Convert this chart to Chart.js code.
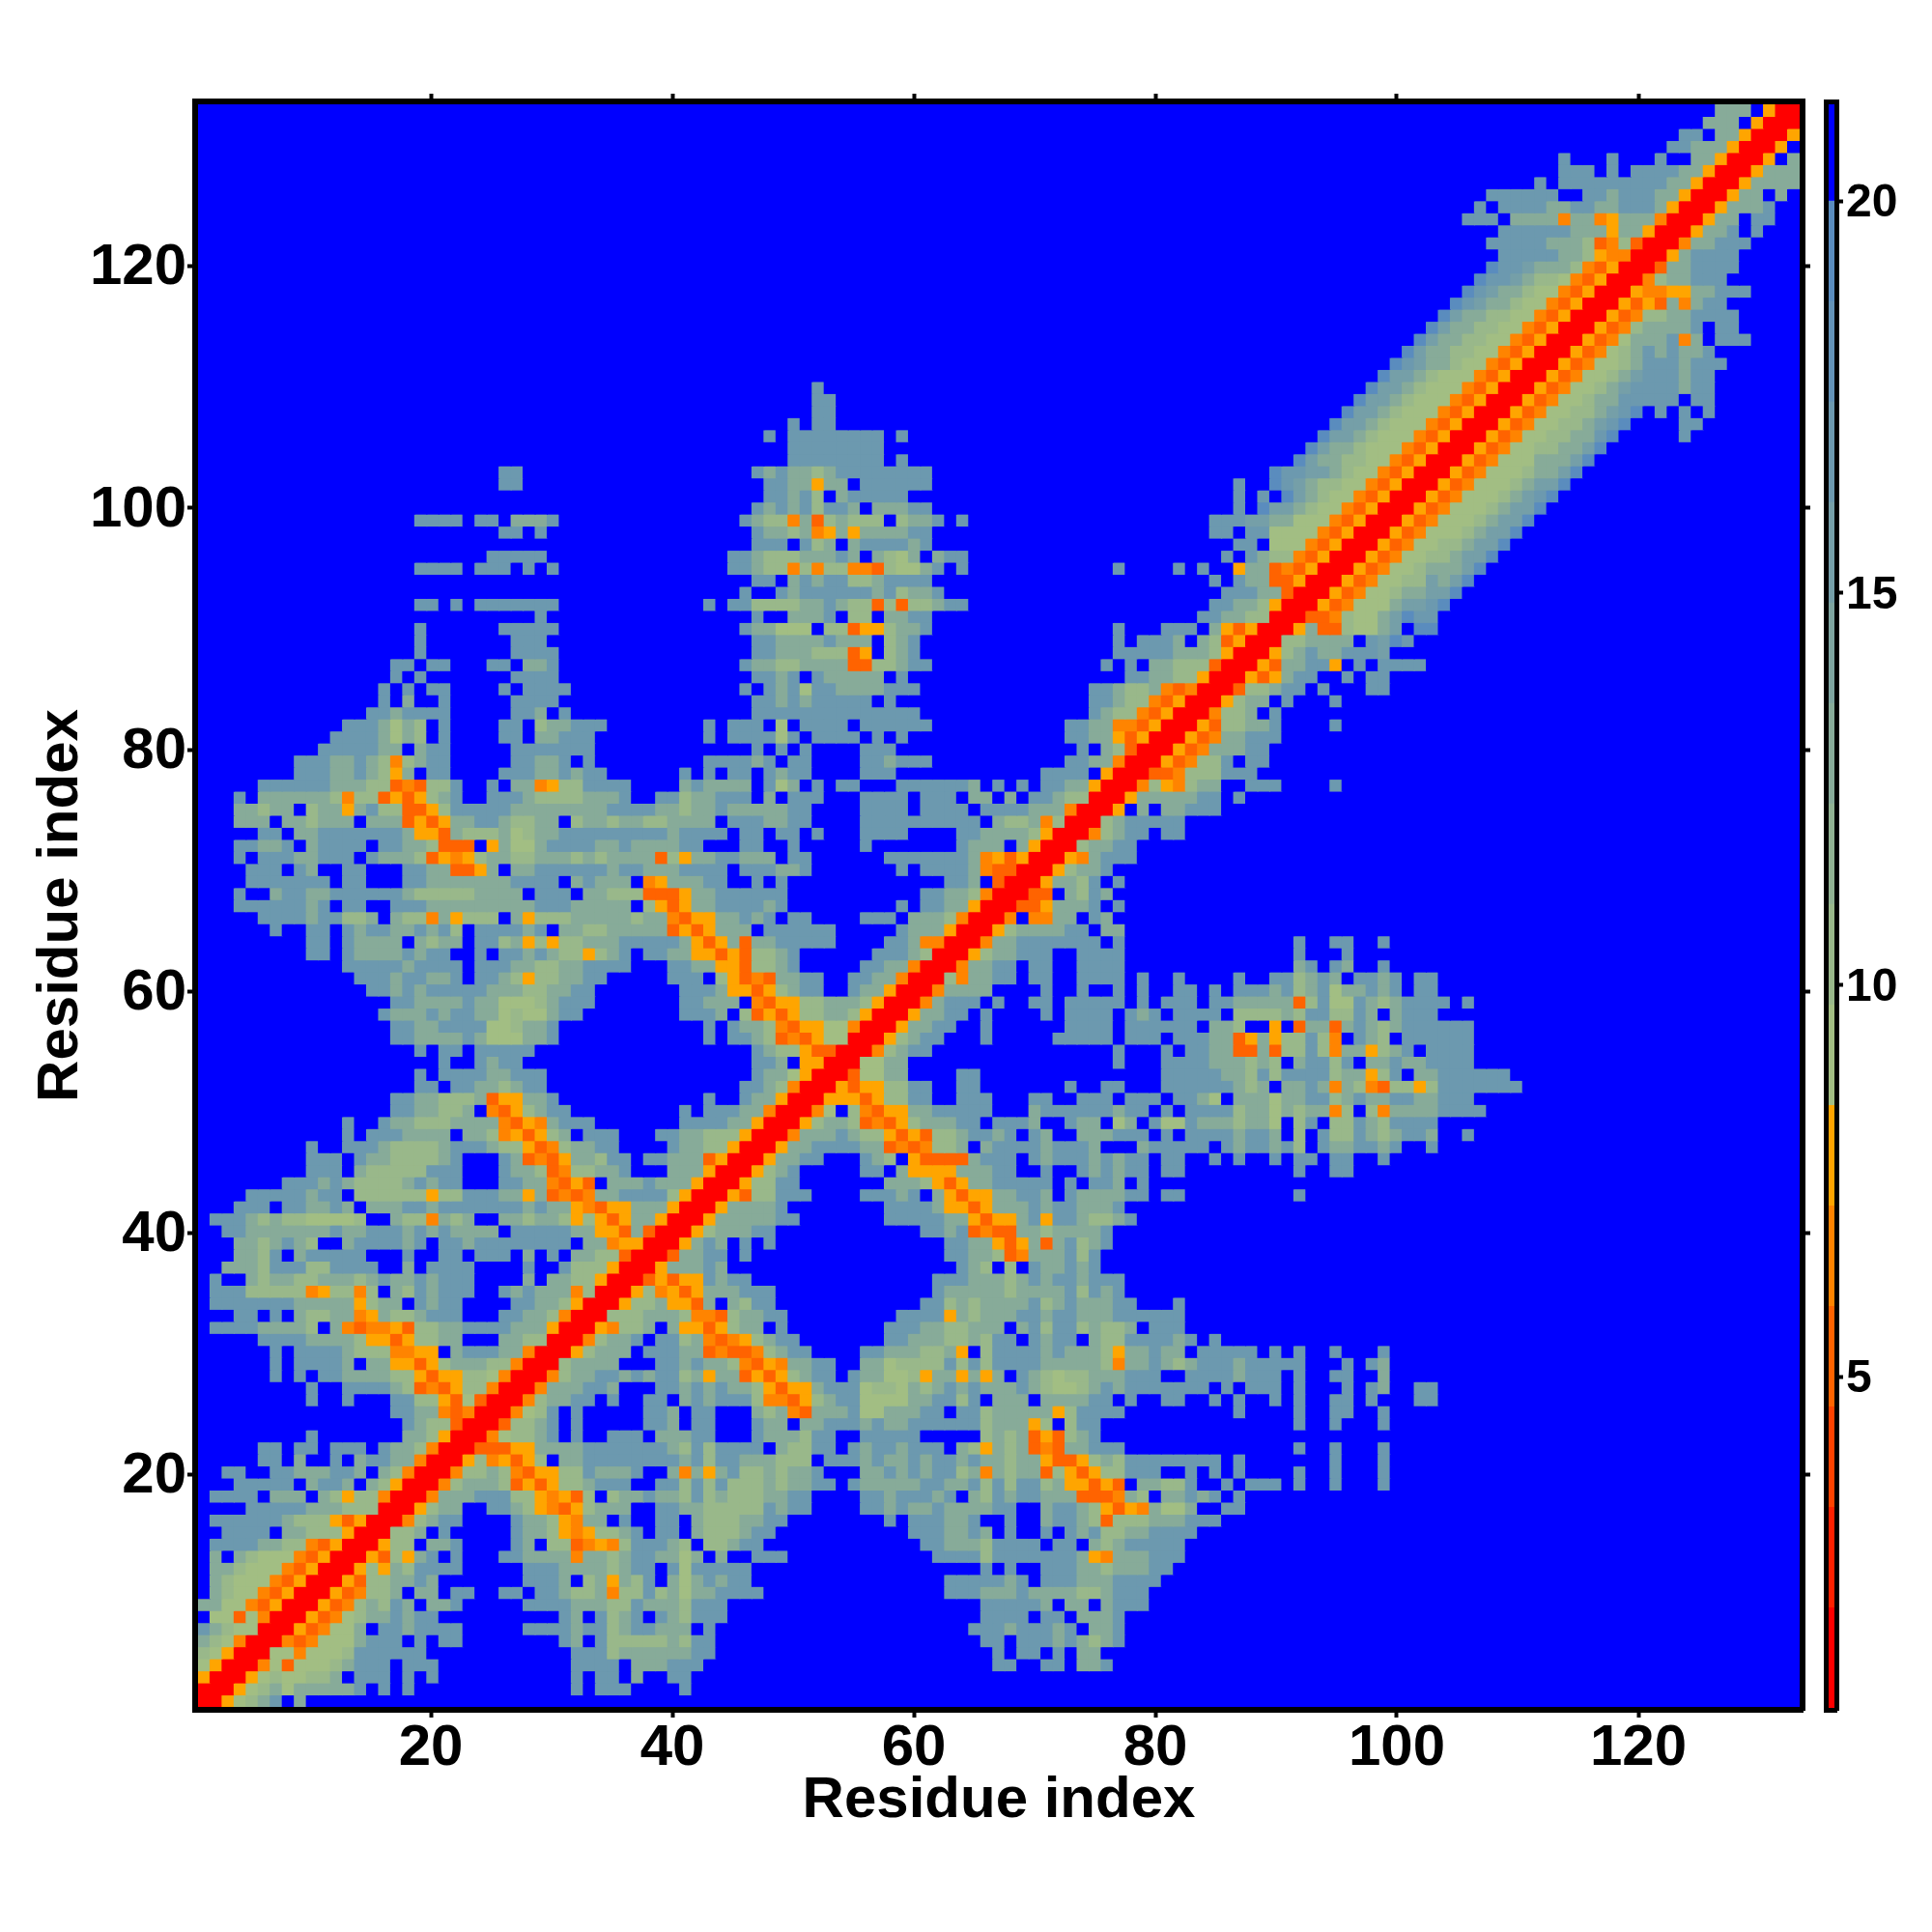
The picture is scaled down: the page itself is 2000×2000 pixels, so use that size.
<!DOCTYPE html>
<html>
<head>
<meta charset="utf-8">
<title>Residue distance map</title>
<script src="https://cdn.jsdelivr.net/npm/chart.js@4"></script>
<style>
    body { margin: 0; background: #fff; }
    #wrap { position: relative; width: 2000px; height: 2000px; }
    canvas { position: absolute; top: 0; }
    #map { left: 0; }
    #bar { left: 1860px; }
</style>
</head>
<body>
<div id="wrap">
    <canvas id="map" width="2000" height="2000"></canvas>
    <canvas id="bar" width="140" height="2000"></canvas>
</div>
<script>
const residueCount = 133;
const axisTicks = [20, 40, 60, 80, 100, 120];
const barTicks = [5, 10, 15, 20];

// colour bar steps
const levelStart = 0.77;
const levelStep = 1.282;
const levelColors = ['#ff0000', '#ff2100', '#ff4200', '#ff6300', '#ff8400', '#ffa500',
    '#a2be83', '#99b88a', '#90b292', '#87ab99', '#7ea5a0', '#759fa8', '#6c99af', '#6392b7', '#5a8cbe',
    '#0000ff'];

// distance read for each code used in upperRows, anything not listed is the far value
const codeValues = { '0': 1.4, '3': 5.26, '4': 6.54, '5': 7.82, '7': 9.1, '8': 10.4, 'a': 12.95, 'b': 15.5, 'c': 16.8, 'd': 19.4 };
const farValue = 20.6;

// one entry per residue y (1..133), "x:codes" runs for x < y, map is symmetric
const upperRows = [
    "",
    "1:0",
    "1:50",
    "1:750",
    "1:8750",
    "1:a8740",
    "1:ca8770",
    "2:773740",
    "1:aa774350",
    "2:a8774350",
    "2:a87774350",
    "2:aa87774350",
    "2:a 4:a87774350",
    "2:ccccaa884350",
    "3:cccc 8:aa88850",
    "2:cccccca8885350",
    "5:cccccaaa8880",
    "2:cccc 7:aaa 11:a858840",
    "4:ccccc 10:acca 15:a850",
    "3:cc 7:ccaaacca 16:a840",
    "6:cc 9:a 12:c 14:accaa40",
    "6:cc 9:cc 12:ccc 16:caa840",
    "10:c 18:aa850",
    "18:ca8830",
    "17:ccaa4340",
    "10:c 13:c 17:cc8853730",
    "10:c 13:cccca834358840",
    "7:c 9:c 11:ccaaaa88535588740",
    "7:c 9:cccca 15:aa55358aaa8840",
    "7:c 9:cccca8884455 22:acccaa40",
    "6:ccccaaaa8553588aa 26:aa880",
    "2:ccccaaaa8 12:a43445388aaccccaaa50",
    "4:cc 7:c 9:a88aa45a88accc 26:ccaa840",
    "2:cccccccaaaaa58aa 19:cacc 27:ccaa850",
    "2:ccc88888458848 17:a8caccc 26:cacaaa480",
    "2:c 5:a8aa88aaa8acaacaccc 28:a 30:aa8850",
    "3:aaa8ccc88cccc 18:a 20:cccc 28:c 31:c88850",
    "4:aa8c 9:accccc 18:c 21:cc 24:ccc 28:a 30:c 32:aa8830",
    "4:aa8aca8 13:accccac 21:ccacccccccc 33:aa4550",
    "3:ccaaaaaaacaacccacacaaaa 27:cccccaa553a30",
    "2:ccca8a8877778 17:a884a8a 26:aa8aa858535aa50",
    "4:ccc 8:ccaaca 15:aaaccacccccccacaa54355aaa50",
    "5:cccccacc 14:888888588cccaa5a3434aacccc850",
    "8:cccaca8888acacc 26:ccaa4353 35:aaacaaa50",
    "10:ccc 14:a88888ccc 26:caa83488aac 40:aaa50",
    "10:ccc 14:caa8888ac 26:ca3435aa8cc 38:ccaaa350",
    "10:c 13:ccca8888accca885348aacc 40:caa8850",
    "13:c 15:cccaaaa 23:aa845358a 33:ccc 39:ccaa88850",
    "13:c 16:caa888aaaa4354accc 41:ccccaa50",
    "17:ccaa88a 25:4358acc 41:c 43:cccaa40",
    "17:ccaa888a355aac 43:c 46:caa50",
    "19:cc 22:ccaa8acc 46:cca840",
    "19:c 21:ccccaaccc 47:caa750",
    "21:c 24:cacc 47:cca 51:550",
    "19:c 21:cc 24:ccccc 47:ca885330",
    "17:ccaaaaca777aac 43:c 45:cca83435770",
    "17:ccaacccc778aac 43:c 45:caa843557740",
    "16:caaacaccaa7877acc 41:ccca 46:8353588aa850",
    "17:ccaaaacaa7778accc 41:ccaaa 47:435588aaa850",
    "15:ccacacccccaaa88aacc 41:ccca55358acc 55:caa50",
    "14:cccaccaac 24:cca8588aacc 40:ccc 44:85343aacc 55:ccaa40",
    "13:cccccacccc 24:cccaa88aacccc 40:ccaa55388ac 56:ccaa40",
    "10:cc 13:caaaacacc 24:c 26:ccaca8858ac 38:ccaa5535388ac 57:ccca80",
    "10:cc 13:caaaa 19:a8aa 24:cc8a58588aaaccccca535a3aaccccc 58:cca440",
    "7:c 10:cc 13:caccaacac8 24:ccccac 31:aa88aaaaa3535aaa 48:cccccc 59:caaa50",
    "6:ccccacc88a 17:a884a5888 27:a5888aaaaa8aa4355aacac 50:cc 56:ccc 60:aaa840",
    "4:ccccccac 13:cc 17:cccaaaaaaaaacccaaaaa 38:8535aaccccac 59:c 61:ccaa50",
    "4:c 7:accaacccccca88888aaaa 29:ccc 33:aa8883335aacccccc 61:ccaa840",
    "5:ccccccc 13:cc 18:ccaaaaaaacccc 32:acaaa 38:45aaacc 47:c 49:c 63:cca 67:30",
    "5:ccc 9:ca 13:cc 18:ccaa335a 27:aaccccccaccaaacccc 46:cccaac 59:c 61:cccca4330",
    "4:c 6:cccaaccc 15:caaa835458aa88aaa8a8aaaa385aaccaaa 50:cc 58:ccccccca45350",
    "4:ccaac 10:acccc 16:ccaa8333 25:5a77accccaacaaaacc 46:cc 50:c 56:c 64:caaa 69:a50",
    "6:cc 9:aaccccccca553a888a78aacccccccccacccc 46:cc 49:cc 52:c 56:cccc 64:ccaaaa850",
    "4:aaa 8:aa8aaa 15:aaa3535aacca88aa 32:8aa8aa88aaaa 45:cccaacc 56:cccccccccc 67:a88a480",
    "4:aa8aa 10:8aa5ac883358cccccaaaaaaaaccccaa8aacaaaaacc 56:cccc 61:cccc 66:ccccaaa40",
    "4:c 6:aaaaaa848835358ac 25:ccca8888aaac 39:cc8aaccc 48:a 50:ccc 56:cccc 61:ccc 65:aa 68:a 70:cca880",
    "6:ccccccaaa8834388c 25:c 27:aa4588cccc 41:acaaaa 48:c7a 52:c 54:cc 59:cccccca 67:c 69:c 71:ccaa50",
    "9:cccaaca85a 20:cc 26:cccaacacc 41:c 43:c 45:cc 48:cacc 56:ccc 71:cccc 76:50",
    "9:cccaaca848acc 27:ccaac 33:c 43:ccccac 50:cc 56:ccaccc 73:ccaa40",
    "11:cccccaa 19:acc 27:ccccccc 47:c 49:c 51:c 56:ccc 74:c 76:a830",
    "12:cccca7a8 21:c 26:cc 29:aaccc 43:c 45:cccc7c 52:cccc 57:c 59:c 73:ccaa5350",
    "13:ccca7a8 21:c 26:cc 29:8aaccc 43:c 45:ccc 49:7 51:cccc 56:cccccc 73:ccaa44350",
    "15:ccacccc 27:cca 31:c 47:cccccccccccccc 75:ca884350",
    "16:c 18:a 21:c 27:cccc 47:ccacaccccc 58:c 75:cca884350",
    "16:c 18:c 20:cc 26:c 28:cccc 46:c 48:cac7ccaaaaccc 75:cca88a4340",
    "17:c 19:c 27:cccc 47:ccac 52:caaaaa 59:c 78:ccaa8850",
    "17:cc 20:cc 25:cc 28:aac 46:caa88aaaa3388acc 76:c 78:c 80:aa88830",
    "19:c 27:cccc 47:ccaaa88835 58:8ac 77:cccccaaa850",
    "19:c 27:ccc 47:ccaaaacaaa 58:8ac 77:c 79:ccca 84:a8350",
    "19:c 26:ccccc 46:caa777 53:883558aac 77:c 81:ccc 85:a5350",
    "29:c 47:c 50:aaac 55:88 58:aacc 84:ccaa880",
    "19:cc 22:c 24:ccccccc 43:c 45:cc8888aaca8838388acc 85:ccaa850",
    "46:c 49:caccccccac8aac 86:cccaa30",
    "47:cc 50:acacc88acccc 85:c 87:caa3350",
    "19:cccc 24:ccc 28:c 30:c 45:cca8848488443877ac 64:c 77:c 82:c 84:c 87:5aa34350",
    "25:ccccc 45:cca888aaaca 57:a87a 62:acc 86:c 88:ca884350",
    "47:ccc 51:c8a 55:accccac 87:cc 90:7774350",
    "26:cc 29:c 47:caa8a45a5aaaacc 85:cc 88:cc77774350",
    "19:cccc 24:cc 27:aaac 46:ca884a38a888 59:8aac 64:c 85:cccbbaa7774350",
    "47:cacac8cca 57:aaacc 87:c 89:dbba8774350",
    "48:ccac8 54:accccc 87:c 89:c 91:dba8774350",
    "26:cc 48:ccaa5aa 56:cccccc 87:c 90:dcba88774350",
    "26:cc 47:cacaa8acccccccc 90:dccbba8774350",
    "50:cccccccc 59:c 92:dbaa88774350",
    "50:cccccccc 93:dbaa87774350",
    "48:c 50:cccccccc 59:c 94:dbba87774350",
    "50:c 52:cc 95:dbba87774350",
    "52:cc 96:dbba87774350",
    "52:cc 97:dbba87774350",
    "52:c 98:dbba87774350",
    "99:dbba87774350",
    "100:dcbaa8774350",
    "101:dbaa88774350",
    "102:dbaa88774350",
    "103:dbaa88774350",
    "104:dbaa88774350",
    "105:dcbaa8774350",
    "106:dcbaa8774350",
    "107:dccba8874350",
    "108:dccbaaa84350",
    "109:cccccaa85440",
    "108:cccccaaa834830",
    "109:ccccccaaa5aa50",
    "106:ccc 110:aaaa4aa45aaa40",
    "107:c 109:ccccaaccaaccca50",
    "108:cccccc 116:ccacccaa50",
    "112:c 114:cccccccccaa50",
    "114:ccc 118:c 120:ccccaa50",
    "114:c 118:c 122:c 125:aa50",
    "123:ccaaa50",
    "124:cc 127:aa50",
    "126:aaa 130:50",
    "127:aaa 131:50"
];

function levelColor(value) {
    let i = Math.floor((value - levelStart) / levelStep);
    return levelColors[Math.min(i, levelColors.length - 1)];
}

// build the symmetric matrix from the rows
let matrix = [];
for (let y = 0; y <= residueCount; y++) {
    matrix.push(new Array(residueCount + 1).fill(farValue));
    matrix[y][y] = codeValues['0'];
}
upperRows.forEach((row, index) => {
    let y = index + 1;
    row.split(' ').filter(run => run).forEach(run => {
        let parts = run.split(':');
        let start = parseInt(parts[0]);
        [...parts[1]].forEach((code, i) => {
            matrix[y][start + i] = codeValues[code];
            matrix[start + i][y] = codeValues[code];
        });
    });
});

let points = [];
let colors = [];
for (let y = 1; y <= residueCount; y++) {
    for (let x = 1; x <= residueCount; x++) {
        points.push({ x: x, y: y });
        colors.push(levelColor(matrix[y][x]));
    }
}

function fixedSize(prop, size) {
    return function (scale) { scale[prop] = size; };
}

function fixedTicks(values) {
    return function (scale) { scale.ticks = values.map(v => ({ value: v })); };
}

const black = '#000';
const labelFont = { family: 'Liberation Sans', weight: 'bold', size: 60 };
const frame = { display: true, color: black, width: 6, z: 1 };
const tickGrid = { drawOnChartArea: false, drawTicks: true, tickLength: 8, tickWidth: 4, tickColor: black };
const hiddenLabels = { display: false };

new Chart(document.getElementById('map'), {
    type: 'scatter',
    data: {
        datasets: [{
            data: points,
            xAxisID: 'cellX',
            yAxisID: 'cellY',
            pointStyle: 'rect',
            pointRadius: 9.6,
            pointBorderWidth: 0,
            pointBackgroundColor: colors,
            clip: 0
        }]
    },
    options: {
        responsive: false,
        animation: false,
        events: [],
        parsing: false,
        normalized: true,
        layout: { padding: 0 },
        plugins: { legend: { display: false }, tooltip: { enabled: false } },
        scales: {
            cellX: { type: 'linear', axis: 'x', display: false, min: 0.26, max: 133.74 },
            cellY: { type: 'linear', axis: 'y', display: false, min: 0.26, max: 133.74 },
            x: {
                type: 'linear', position: 'bottom', min: 0.48, max: 133.6,
                border: frame, grid: tickGrid,
                afterBuildTicks: fixedTicks(axisTicks),
                afterFit: fixedSize('height', 230),
                ticks: { color: black, font: labelFont, padding: -4, maxRotation: 0, autoSkip: false },
                title: { display: true, text: 'Residue index', color: black, font: labelFont, padding: { top: 0, bottom: 100 } }
            },
            top: {
                type: 'linear', position: 'top', min: 0.48, max: 133.6,
                border: frame, grid: tickGrid,
                afterBuildTicks: fixedTicks(axisTicks),
                afterFit: fixedSize('height', 105),
                ticks: hiddenLabels
            },
            y: {
                type: 'linear', position: 'left', min: 0.56, max: 133.65,
                border: frame, grid: tickGrid,
                afterBuildTicks: fixedTicks(axisTicks),
                afterFit: fixedSize('width', 202),
                ticks: { color: black, font: labelFont, padding: 1, labelOffset: 2, autoSkip: false },
                title: { display: true, text: 'Residue index', color: black, font: labelFont, padding: { top: 27, bottom: 0 } }
            },
            right: {
                type: 'linear', position: 'right', min: 0.56, max: 133.65,
                border: frame, grid: tickGrid,
                afterBuildTicks: fixedTicks(axisTicks),
                afterFit: fixedSize('width', 134),
                ticks: hiddenLabels
            }
        }
    }
});

// colour bar, one floating bar per level
const barFrame = { display: true, color: black, width: 5, z: 1 };
const noGrid = { display: false };

new Chart(document.getElementById('bar'), {
    type: 'bar',
    data: {
        labels: [''],
        datasets: levelColors.map((color, i) => ({
            data: [[levelStart + i * levelStep, levelStart + (i + 1) * levelStep]],
            backgroundColor: color,
            barPercentage: 1,
            categoryPercentage: 1
        }))
    },
    options: {
        responsive: false,
        animation: false,
        events: [],
        layout: { padding: 0 },
        plugins: { legend: { display: false }, tooltip: { enabled: false } },
        scales: {
            x: {
                type: 'category', position: 'bottom', stacked: true,
                border: barFrame, grid: noGrid, ticks: hiddenLabels,
                afterFit: fixedSize('height', 230)
            },
            barTop: {
                type: 'category', axis: 'x', position: 'top', labels: [''],
                border: barFrame, grid: noGrid, ticks: hiddenLabels,
                afterFit: fixedSize('height', 105)
            },
            y: {
                type: 'linear', position: 'right', min: 0.75, max: 21.27,
                border: barFrame,
                grid: { drawOnChartArea: false, drawTicks: true, tickLength: 7, tickWidth: 4, tickColor: black },
                afterBuildTicks: fixedTicks(barTicks),
                afterFit: fixedSize('width', 99),
                ticks: { color: black, font: { family: 'Liberation Sans', weight: 'bold', size: 48 }, padding: 3, labelOffset: 3, autoSkip: false }
            },
            barLeft: {
                type: 'linear', axis: 'y', position: 'left', min: 0.75, max: 21.27,
                border: barFrame, grid: noGrid, ticks: hiddenLabels,
                afterFit: fixedSize('width', 30)
            }
        }
    }
});
</script>
</body>
</html>
